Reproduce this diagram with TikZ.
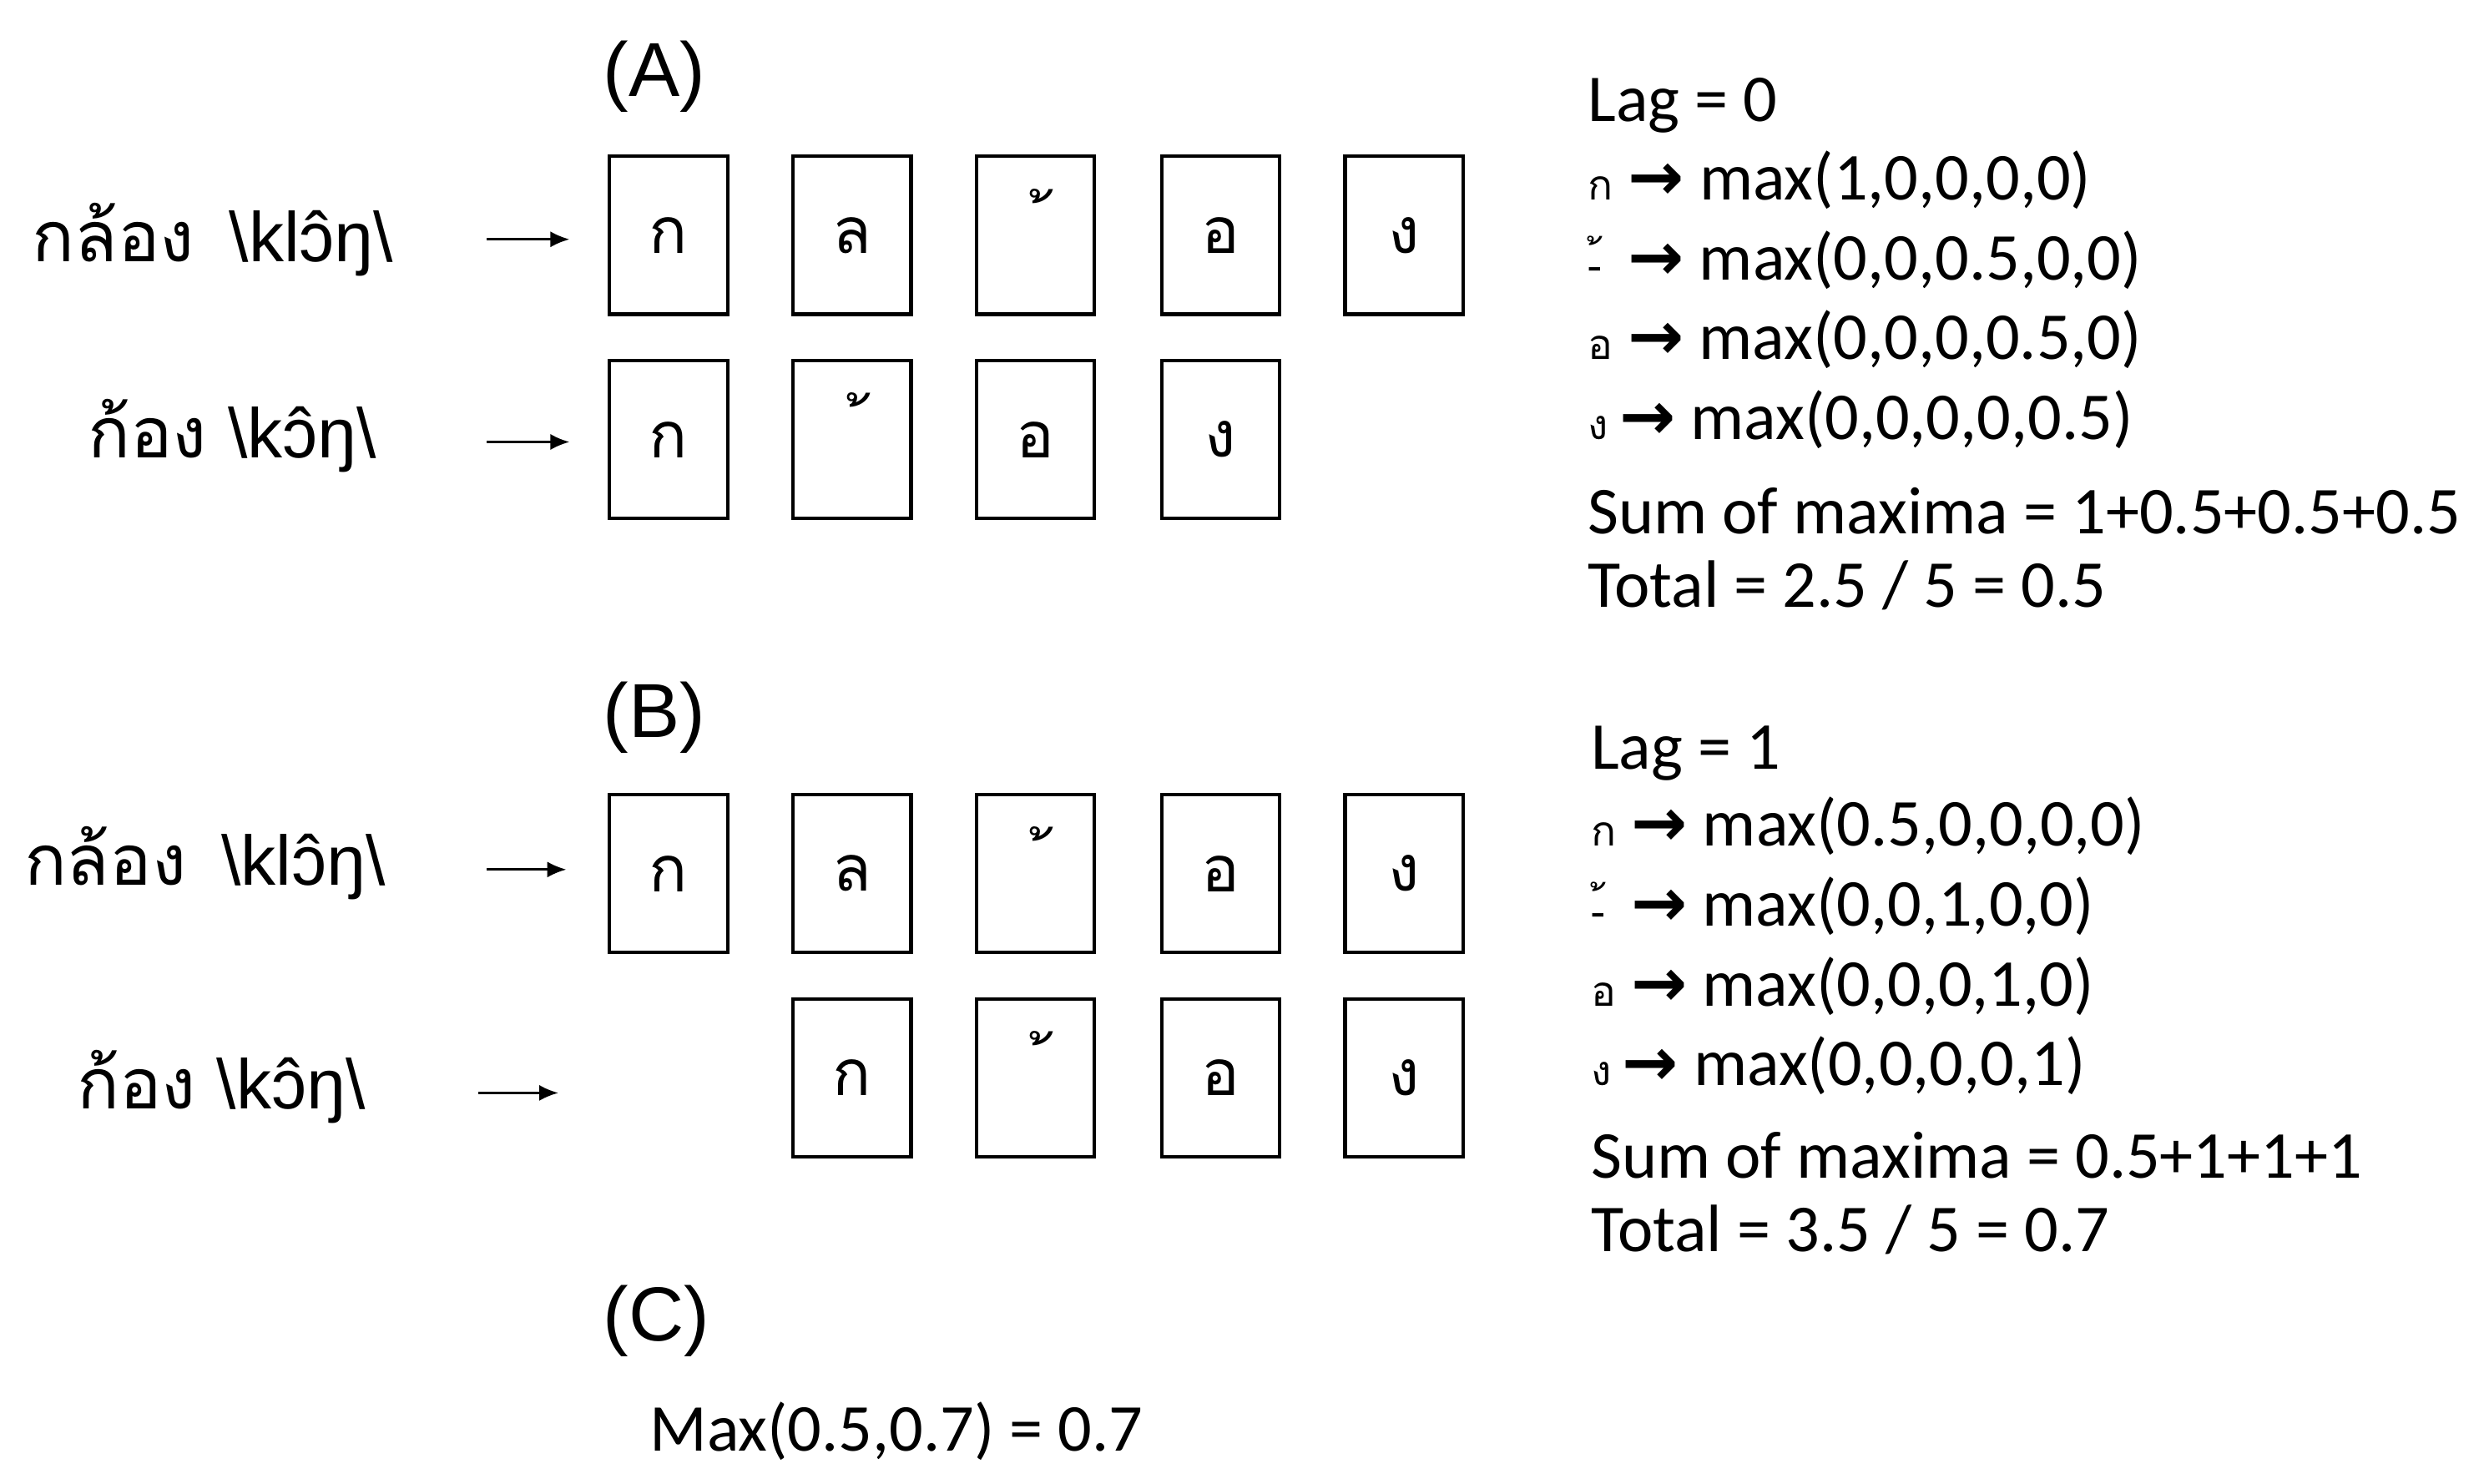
\documentclass[tikz,border=0pt]{standalone}
\usetikzlibrary{arrows.meta}
\usepackage{fontspec}
\setmainfont{Carlito}
\newfontfamily\thaifont[Script=Thai]{Loma}
\newfontfamily\ipafont{Liberation Sans}
\newfontfamily\arrfont{DejaVu Sans}
\begin{document}
\begin{tikzpicture}[x=1pt,y=1pt,
  box/.style={draw,line width=2.2pt,minimum width=74pt,minimum height=99pt,inner sep=0pt},
  ch/.style={font=\thaifont\fontsize{40}{42}\selectfont,inner sep=0pt},
  lbl/.style={anchor=west,inner sep=0pt,font=\fontsize{42}{46}\selectfont},
  head/.style={anchor=west,inner sep=0pt,font=\ipafont\fontsize{48}{52}\selectfont},
  word/.style={anchor=west,inner sep=0pt,font=\fontsize{44}{48}\selectfont},
  arr/.style={-{Latex[length=12pt,width=10pt]},line width=1.5pt}]
\fill[white] (0,0) rectangle (1560,-930);
\newcommand{\ar}{{\arrfont\bfseries →}}
\newcommand{\tk}[1]{{\thaifont\fontsize{26}{28}\selectfont #1}}
% labels
\node[head] (hA) at (378,-48) {(A)};
\node[head] (hB) at (378,-450) {(B)};
\node[head] (hC) at (378,-828) {(C)};
% words
\node[word] (wA1) at (20,-150) {{\thaifont กล้อง}\hspace{0.5em}{\ipafont \textbackslash klɔ̂ŋ\textbackslash}};
\node[word] (wA2) at (55,-273) {{\thaifont ก้อง}\hspace{0.3em}{\ipafont \textbackslash kɔ̂ŋ\textbackslash}};
\node[word] (wB1) at (15,-541) {{\thaifont กล้อง}\hspace{0.5em}{\ipafont \textbackslash klɔ̂ŋ\textbackslash}};
\node[word] (wB2) at (48,-681) {{\thaifont ก้อง}\hspace{0.3em}{\ipafont \textbackslash kɔ̂ŋ\textbackslash}};
\coordinate (sA1) at (305,-150); \coordinate (eA1) at (357,-150);
\coordinate (sA2) at (305,-277); \coordinate (eA2) at (357,-277);
\coordinate (sB1) at (305,-545); \coordinate (eB1) at (355,-545);
\coordinate (sB2) at (300,-685); \coordinate (eB2) at (350,-685);
% boxes
\foreach \r/\y in {A1/-147.5,A2/-275.5,B1/-547.5,B2/-675.5}{
  \foreach \c/\x in {1/421,2/536,3/651,4/767,5/882}{
    \coordinate (p\r\c) at (\x-2,\y);}}
\node[box] (bA11) at (pA11) {}; \node[box] (bA12) at (pA12) {}; \node[box] (bA13) at (pA13) {}; \node[box] (bA14) at (pA14) {}; \node[box] (bA15) at (pA15) {};
\node[box] (bA21) at (pA21) {}; \node[box] (bA22) at (pA22) {}; \node[box] (bA23) at (pA23) {}; \node[box] (bA24) at (pA24) {};
\node[box] (bB11) at (pB11) {}; \node[box] (bB12) at (pB12) {}; \node[box] (bB13) at (pB13) {}; \node[box] (bB14) at (pB14) {}; \node[box] (bB15) at (pB15) {};
\node[box] (bB22) at (pB22) {}; \node[box] (bB23) at (pB23) {}; \node[box] (bB24) at (pB24) {}; \node[box] (bB25) at (pB25) {};
% letters
\node[ch] at (bA11) {ก}; \node[ch] at (bA12) {ล}; \node[ch] at (bA14) {อ}; \node[ch] at (bA15) {ง};
\node[ch] at (bA21) {ก}; \node[ch] at (bA23) {อ}; \node[ch] at (bA24) {ง};
\node[ch] at (bB11) {ก}; \node[ch] at (bB12) {ล}; \node[ch] at (bB14) {อ}; \node[ch] at (bB15) {ง};
\node[ch] at (bB22) {ก}; \node[ch] at (bB24) {อ}; \node[ch] at (bB25) {ง};
\foreach \b in {bA13,bA22,bB13,bB23}{
  \node[ch] at ([yshift=8pt]\b.center) {{\color{white}ก}\kern-0.1em ้};}
% arrows
\draw[arr] (sA1) -- (eA1);
\draw[arr] (sA2) -- (eA2);
\draw[arr] (sB1) -- (eB1);
\draw[arr] (sB2) -- (eB2);
% right text A
\node[lbl] (a0) at (995,-66) {Lag = 0};
\node[lbl] (a1) at (995,-113) {\tk{ก} \ar{} max(1,0,0,0,0)};
\node[lbl] (a2) at (995,-163) {\tk{-้}\, \ar{} max(0,0,0.5,0,0)};
\node[lbl] (a3) at (995,-213) {\tk{อ} \ar{} max(0,0,0,0.5,0)};
\node[lbl] (a4) at (995,-263) {\tk{ง}\,\ar{} max(0,0,0,0,0.5)};
\node[lbl] (a5) at (995,-320) {Sum of maxima = 1+0.5+0.5+0.5};
\node[lbl] (a6) at (995,-367) {Total = 2.5 / 5 = 0.5};
% right text B
\node[lbl] (b0) at (997,-472) {Lag = 1};
\node[lbl] (b1) at (997,-518) {\tk{ก} \ar{} max(0.5,0,0,0,0)};
\node[lbl] (b2) at (997,-568) {\tk{-้}\, \ar{} max(0,0,1,0,0)};
\node[lbl] (b3) at (997,-618) {\tk{อ} \ar{} max(0,0,0,1,0)};
\node[lbl] (b4) at (997,-668) {\tk{ง}\,\ar{} max(0,0,0,0,1)};
\node[lbl] (b5) at (997,-724) {Sum of maxima = 0.5+1+1+1};
\node[lbl] (b6) at (997,-771) {Total = 3.5 / 5 = 0.7};
\node[lbl] (c0) at (407,-897) {Max(0.5,0.7) = 0.7};
\end{tikzpicture}
\end{document}
